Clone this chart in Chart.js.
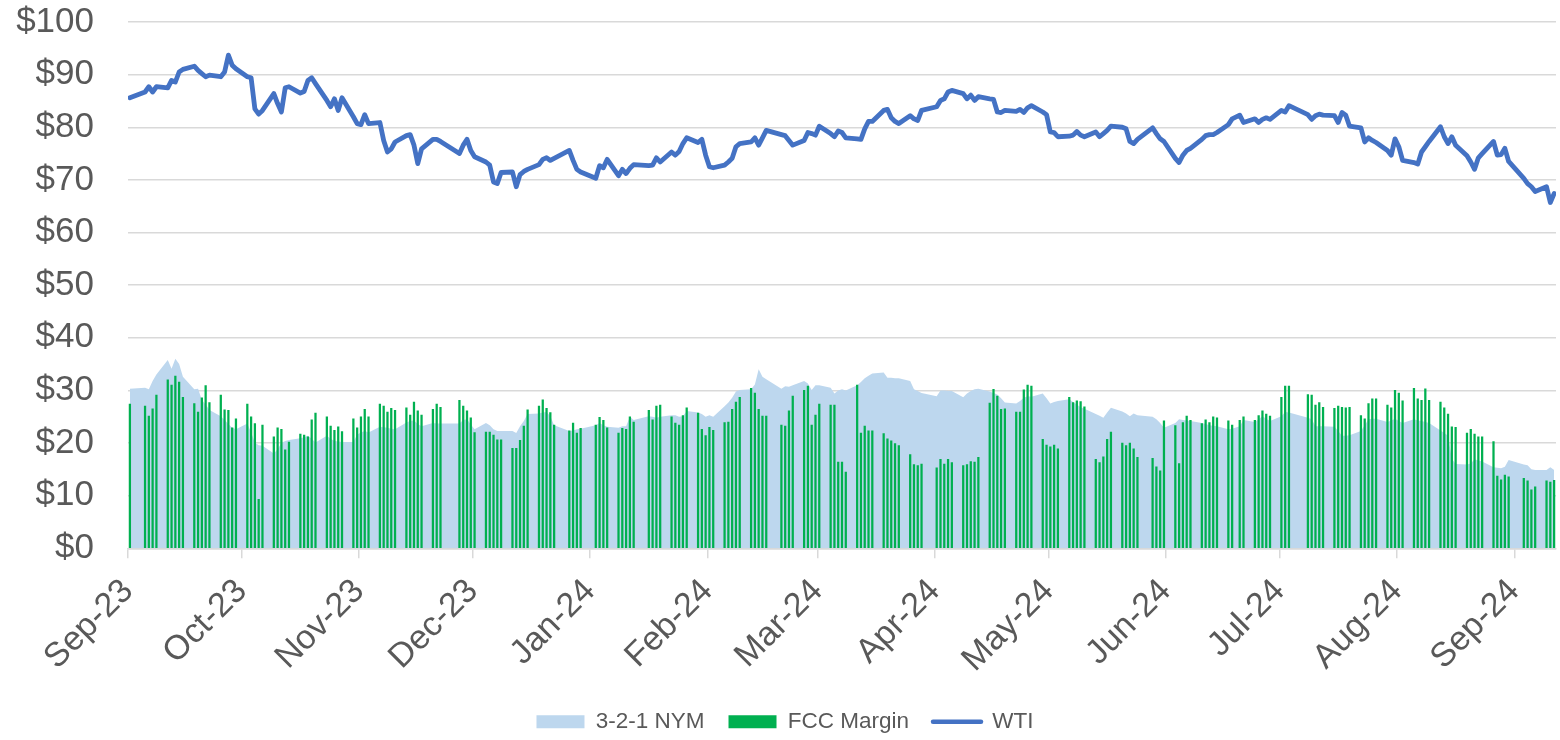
<!DOCTYPE html>
<html>
<head>
<meta charset="utf-8">
<script src="https://cdn.jsdelivr.net/npm/chart.js@4.4.1/dist/chart.umd.min.js"></script>
<style>
html,body{margin:0;padding:0;background:#ffffff;}
#wrap{width:1560px;height:740px;position:relative;}
</style>
</head>
<body>
<div id="wrap"><canvas id="c" width="1560" height="740"></canvas></div>
<script>
// ---- categories: trading days from first to last date (weekdays) ----
const startDate = Date.UTC(2023, 8, 1);
const endDate = Date.UTC(2024, 8, 11);
const monthLabels = ['Sep-23','Oct-23','Nov-23','Dec-23','Jan-24','Feb-24','Mar-24','Apr-24','May-24','Jun-24','Jul-24','Aug-24','Sep-24'];
const yTicks = [0,10,20,30,40,50,60,70,80,90,100];

// ---- series values, one row per week (Mon..Fri), null = no data ----
const nym = [30.3,
 null,30.5,30.2,31.8,33.0,
 35.8,34.1,36.0,35.0,32.6,
 30.2,30.3,28.2,27.3,26.3,
 25.1,24.4,23.6,22.9,22.6,
 23.7,22.0,20.1,19.6,19.5,
 18.0,18.8,20.0,20.4,20.6,
 20.9,21.1,21.4,20.8,20.1,
 21.4,20.8,20.4,20.3,20.2,
 20.2,21.6,22.0,22.3,22.0,
 23.1,23.0,22.9,22.7,22.6,
 23.9,24.2,24.3,23.6,23.2,
 23.8,23.7,23.7,null,null,
 23.7,24.4,24.5,23.5,22.6,
 23.8,23.4,22.6,22.3,22.3,
 22.3,21.9,23.2,24.2,25.5,
 25.6,25.8,25.9,25.1,23.4,
 null,22.3,22.4,22.6,22.7,
 null,23.4,23.8,23.4,23.1,
 22.9,23.2,23.2,25.0,24.4,
 null,25.1,25.0,24.8,25.0,
 25.3,25.3,25.0,25.1,26.1,
 25.8,25.5,25.0,25.3,25.0,
 27.0,27.7,28.6,29.8,30.1,
 30.2,31.1,34.0,32.6,32.1,
 null,30.3,30.8,30.7,31.0,
 31.8,31.3,30.1,31.0,31.0,
 30.5,29.4,30.0,30.2,30.0,
 31.0,31.6,32.3,32.8,33.2,
 33.4,32.4,32.4,32.3,32.3,
 31.8,30.2,29.9,29.5,null,
 28.9,30.0,30.0,29.9,29.9,
 28.7,29.4,29.9,30.2,30.3,
 29.8,29.5,29.2,28.5,27.7,
 27.5,28.0,28.6,28.9,28.8,
 29.4,28.5,27.5,27.8,28.0,
 28.3,27.8,27.3,26.8,26.5,
 25.5,25.2,24.8,25.8,26.7,
 26.0,25.6,25.1,25.6,25.3,
 null,25.0,24.5,23.8,22.9,
 23.8,24.5,24.4,24.3,24.2,
 23.8,23.6,23.4,23.3,23.2,
 22.6,22.7,null,23.2,24.4,
 24.0,24.5,25.1,24.6,24.2,
 25.1,25.9,25.8,null,null,
 24.8,24.5,23.2,23.2,23.2,
 23.1,22.3,21.4,21.4,21.5,
 22.3,23.4,24.5,24.6,24.6,
 24.0,24.3,24.6,24.2,23.8,
 24.5,24.3,24.2,24.0,23.8,
 22.4,21.9,21.4,17.0,16.0,
 15.9,16.1,16.9,16.7,16.5,
 15.4,15.3,15.2,15.5,16.8,
 null,15.9,15.8,15.0,14.9,
 14.9,15.4,14.9];

const fcc = [27.4,
 null,27.0,25.1,26.5,29.1,
 32.0,31.0,32.7,31.6,28.7,
 27.5,25.9,28.6,30.9,27.7,
 29.1,26.3,26.2,22.9,24.6,
 27.4,25.0,23.7,9.3,23.4,
 21.2,22.9,22.6,18.7,20.2,
 21.7,21.5,21.2,24.4,25.7,
 25.0,23.2,22.4,23.1,22.2,
 24.6,22.9,25.0,26.4,25.0,
 27.4,27.0,25.9,26.6,26.2,
 26.7,25.3,27.8,26.1,25.3,
 26.4,27.4,26.8,null,null,
 28.1,27.0,26.1,24.8,22.0,
 22.1,22.1,21.5,20.6,20.6,
 19.0,19.0,20.5,23.2,26.3,
 27.0,28.2,26.6,25.8,23.4,
 null,22.3,23.8,21.9,22.8,
 null,23.4,24.9,24.3,22.9,
 21.9,22.8,22.6,25.0,24.0,
 null,26.2,24.4,27.0,27.2,
 25.0,23.8,23.4,25.2,26.7,
 25.7,22.6,21.4,23.0,22.4,
 23.9,24.0,26.4,27.8,28.7,
 30.4,29.5,26.4,25.1,25.1,
 null,23.4,23.2,26.1,28.9,
 30.0,30.8,23.4,25.3,27.4,
 27.2,27.2,16.4,16.4,14.5,
 31.0,21.9,23.2,22.3,22.3,
 21.8,20.8,20.4,19.9,19.5,
 17.8,15.9,15.7,16.0,null,
 15.3,16.9,16.0,16.9,16.3,
 15.7,15.9,16.5,16.4,17.3,
 27.6,30.2,28.9,26.4,26.5,
 25.9,25.9,30.1,31.0,30.8,
 20.7,19.6,19.3,19.6,18.9,
 28.7,27.7,28.0,27.9,26.9,
 16.9,16.3,17.4,20.7,22.1,
 20.0,19.5,20.0,18.9,17.3,
 null,17.1,15.5,14.7,24.2,
 23.3,16.1,23.9,25.1,24.3,
 23.7,24.4,23.9,25.0,24.8,
 24.2,23.4,null,24.3,25.0,
 24.3,25.2,26.1,25.5,25.1,
 28.7,30.8,30.8,null,null,
 29.2,29.1,27.2,27.7,26.8,
 26.6,27.0,26.8,26.7,26.8,
 25.2,24.6,27.5,28.4,28.4,
 27.2,26.7,30.0,29.5,28.0,
 30.4,28.4,28.1,30.3,28.1,
 27.8,26.7,25.5,23.1,23.0,
 21.9,22.6,21.7,21.2,21.2,
 20.3,13.7,13.0,13.9,13.6,
 null,13.3,12.8,11.1,11.7,
 12.8,12.6,12.9];

const wti = [85.6,
 null,86.7,87.7,86.7,87.7,
 87.5,88.9,88.6,90.5,91.0,
 91.6,90.8,90.2,89.6,89.9,
 89.6,90.5,93.7,91.8,91.1,
 89.6,89.4,83.5,82.5,83.2,
 86.4,84.5,82.9,87.5,87.7,
 86.5,86.8,88.9,89.4,88.3,
 85.1,83.9,85.4,83.2,85.6,
 82.0,80.7,80.5,82.4,80.7,
 80.9,77.5,75.3,75.9,77.2,
 78.4,78.6,76.6,73.1,75.9,
 77.7,77.7,77.3,null,null,
 75.0,76.6,77.7,75.6,74.4,
 73.4,72.8,69.6,69.3,71.4,
 71.5,68.7,71.0,71.6,72.0,
 72.9,73.9,74.2,73.7,74.1,
 null,75.6,73.7,72.0,71.5,
 null,70.3,72.7,72.3,73.9,
 70.8,72.0,71.2,72.2,72.9,
 null,72.7,72.8,74.2,73.4,
 75.3,74.7,75.4,76.9,78.0,
 77.1,77.7,74.7,72.5,72.3,
 72.8,73.4,74.1,76.3,76.9,
 77.2,78.0,76.6,78.0,79.4,
 null,78.6,78.4,77.5,76.6,
 77.5,79.0,78.8,78.5,80.2,
 78.8,78.2,79.3,79.0,78.0,
 77.8,77.7,79.7,81.1,81.1,
 83.2,83.4,81.8,81.1,80.7,
 82.2,81.6,81.3,83.2,null,
 83.9,85.1,85.4,86.7,87.0,
 86.4,85.4,86.1,85.1,85.8,
 85.4,85.3,82.9,82.8,83.2,
 83.0,83.4,82.8,83.7,84.1,
 82.9,82.4,79.1,79.0,78.2,
 78.3,78.5,79.2,78.5,78.2,
 79.1,78.2,78.8,79.4,80.2,
 80.0,79.7,77.3,76.9,77.7,
 null,79.9,78.8,77.8,77.3,
 74.1,73.3,74.7,75.6,76.0,
 77.7,78.4,78.6,78.6,79.0,
 80.5,81.6,null,82.3,80.9,
 81.6,80.9,81.5,81.8,81.5,
 83.2,82.9,84.1,null,null,
 82.4,81.5,82.2,82.5,82.3,
 82.2,80.9,82.8,82.3,80.2,
 79.9,77.2,78.0,77.5,77.1,
 75.6,74.7,77.8,76.3,73.7,
 73.3,73.0,75.3,76.3,77.3,
 80.1,78.2,76.9,78.2,76.6,
 74.6,73.4,72.0,74.2,75.0,
 77.3,74.7,74.8,76.0,73.5,
 null,70.3,69.3,68.7,67.8,
 68.7,65.7,67.4];

// ---- build the date axis ----
const DAY = 86400000;
const tradingDays = [];
for (let t = startDate; t <= endDate; t += DAY) {
  const w = new Date(t).getUTCDay();
  if (w !== 0 && w !== 6) tradingDays.push(Math.round((t - startDate) / DAY));
}
const totalDays = Math.round((endDate - startDate) / DAY) + 1;
const monthStarts = monthLabels.map((_, i) => Math.round((Date.UTC(2023, 8 + i, 1) - startDate) / DAY));
[nym, fcc, wti].forEach((a, k) => {
  if (a.length !== tradingDays.length) throw new Error('length mismatch ' + k + ': ' + a.length + ' vs ' + tradingDays.length);
});
const toPoints = arr => tradingDays.map((d, i) => ({ x: d + 0.5, y: arr[i] }));

const FONT = "'Liberation Sans', Arial, sans-serif";
const GREY = '#595959';
const GRID = '#d9d9d9';

new Chart(document.getElementById('c'), {
  type: 'line',
  data: {
    datasets: [
      {
        label: 'WTI', type: 'line', order: 0,
        data: toPoints(wti),
        borderColor: '#4472C4', borderWidth: 4.8,
        pointRadius: 0, tension: 0, fill: false, spanGaps: true,
        borderJoinStyle: 'round', borderCapStyle: 'round'
      },
      {
        label: 'FCC Margin', type: 'bar', order: 1,
        data: toPoints(fcc),
        backgroundColor: '#00B050', borderWidth: 0,
        barThickness: 1.6
      },
      {
        label: '3-2-1 NYM', type: 'line', order: 2,
        data: toPoints(nym),
        borderWidth: 0, borderColor: 'rgba(0,0,0,0)',
        backgroundColor: '#BDD7EE',
        pointRadius: 0, tension: 0, fill: 'origin', spanGaps: true
      }
    ]
  },
  options: {
    responsive: false,
    animation: false,
    devicePixelRatio: 1,
    layout: { padding: { top: 22, right: 4, left: 14, bottom: -3 } },
    plugins: {
      tooltip: { enabled: false },
      legend: {
        position: 'bottom',
        labels: {
          font: { family: FONT, size: 22.5 },
          color: GREY,
          usePointStyle: true,
          pointStyleWidth: 48,
          boxHeight: 13,
          padding: 24,
          generateLabels: () => [
            { text: '3-2-1 NYM', fillStyle: '#BDD7EE', strokeStyle: '#BDD7EE', lineWidth: 0, pointStyle: 'rect', datasetIndex: 2, fontColor: GREY },
            { text: 'FCC Margin', fillStyle: '#00B050', strokeStyle: '#00B050', lineWidth: 0, pointStyle: 'rect', datasetIndex: 1, fontColor: GREY },
            { text: 'WTI', fillStyle: '#4472C4', strokeStyle: '#4472C4', lineWidth: 4.5, lineCap: 'round', pointStyle: 'line', datasetIndex: 0, fontColor: GREY }
          ]
        }
      }
    },
    scales: {
      x: {
        type: 'linear',
        min: 0,
        max: totalDays,
        offset: false,
        grid: { display: true, drawOnChartArea: false, drawTicks: true, tickLength: 10, color: GRID, lineWidth: 1.5, offset: false },
        border: { display: true, color: GRID, width: 1.5 },
        afterBuildTicks: axis => { axis.ticks = monthStarts.map(v => ({ value: v })); },
        afterFit: axis => { axis.height = 138.2; },
        ticks: {
          autoSkip: false,
          minRotation: 45,
          maxRotation: 45,
          padding: 13,
          color: GREY,
          font: { family: FONT, size: 34 },
          callback: v => { const i = monthStarts.indexOf(v); return i >= 0 ? monthLabels[i] : ''; }
        }
      },
      y: {
        min: 0,
        max: 100,
        afterBuildTicks: axis => { axis.ticks = yTicks.map(v => ({ value: v })); },
        afterFit: axis => { axis.width = 114; axis.paddingTop = 0; axis.paddingBottom = 0; },
        grid: { color: GRID, lineWidth: 1.5, drawTicks: false },
        border: { display: false },
        ticks: {
          padding: 34,
          color: GREY,
          font: { family: FONT, size: 35 },
          callback: v => '$' + v
        }
      }
    }
  }
});
</script>
</body>
</html>
